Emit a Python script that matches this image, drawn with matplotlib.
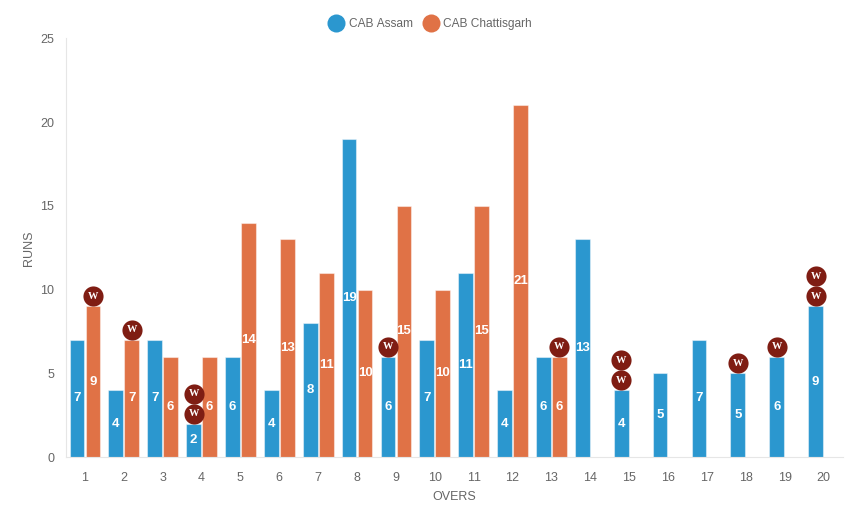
import numpy as np
import matplotlib
matplotlib.use("Agg")
import matplotlib.pyplot as plt
from matplotlib.lines import Line2D

plt.rcParams['font.family'] = ['Liberation Sans', 'DejaVu Sans']
plt.rcParams['text.kerning_factor'] = 6

overs = list(range(1, 21))
assam = [7, 4, 7, 2, 6, 4, 8, 19, 6, 7, 11, 4, 6, 13, 4, 5, 7, 5, 6, 9]
chattisgarh = [9, 7, 6, 6, 14, 13, 11, 10, 15, 10, 15, 21, 6, 0, 0, 0, 0, 0, 0, 0]
assam_wkts = [0, 0, 0, 2, 0, 0, 0, 0, 1, 0, 0, 0, 0, 0, 2, 0, 0, 1, 1, 2]
chattisgarh_wkts = [1, 1, 0, 0, 0, 0, 0, 0, 0, 0, 0, 0, 1, 0, 0, 0, 0, 0, 0, 0]

blue = '#2b97cf'
orange = '#e07246'
wkt_col = '#7f1d13'
grey = '#666666'

W, H = 861, 516
fig = plt.figure(figsize=(W / 100, H / 100), dpi=100)
# axes box in pixels: left 65.5, right 843, top 38.5, bottom 457
ax = fig.add_axes([65.5 / W, 1 - 457 / H, (843 - 65.5) / W, (457 - 38.5) / H])

x = np.arange(len(overs))
off = 0.205
bw = 0.38


def draw_team(xs, vals, wkts, col):
    ax.bar(xs, vals, bw, color=col, edgecolor=(1, 1, 1, 0.45), linewidth=0.8, zorder=2)
    for xi, v, n in zip(xs, vals, wkts):
        if v > 0:
            ax.text(xi, v / 2, str(v), color='white', fontsize=9.5, fontweight='bold',
                    ha='center', va='center', zorder=3)
        for k in range(n):
            # stacked wicket badges sitting on top of the bar
            dy = 10 + 20 * k
            ax.plot([xi], [v], marker='o', ms=14.5, color=wkt_col, mew=0, zorder=4,
                    transform=ax.transData + matplotlib.transforms.ScaledTranslation(0, dy / 100, fig.dpi_scale_trans))
            ax.annotate('W', (xi, v), xytext=(0, dy * 0.72), textcoords='offset points',
                        color='white', fontsize=7.5, fontweight='bold', family='Liberation Serif',
                        ha='center', va='center', zorder=5)


draw_team(x - off, assam, assam_wkts, blue)
draw_team(x + off, chattisgarh, chattisgarh_wkts, orange)

ax.set_xlim(-0.5, len(overs) - 0.5)
ax.set_ylim(0, 25)
ax.set_xticks(x)
ax.set_xticklabels(overs)
ax.set_yticks([0, 5, 10, 15, 20, 25])
ax.tick_params(length=0, labelcolor=grey, labelsize=9)
ax.tick_params(axis='x', pad=11)
ax.tick_params(axis='y', pad=8)

for s in ['top', 'right']:
    ax.spines[s].set_visible(False)
for s in ['left', 'bottom']:
    ax.spines[s].set_color('#e6e6e6')

ax.set_xlabel('OVERS', color=grey, fontsize=9, labelpad=5)
ax.set_ylabel('RUNS', color=grey, fontsize=9, labelpad=4)

handles = [Line2D([], [], marker='o', ls='', ms=13, color=blue, mew=0),
           Line2D([], [], marker='o', ls='', ms=13, color=orange, mew=0)]
fig.legend(handles, ['CAB Assam', 'CAB Chattisgarh'], ncol=2, frameon=False,
           loc='center', bbox_to_anchor=(428 / W, 1 - 24 / H), fontsize=8.6, labelcolor=grey,
           handletextpad=0.05, columnspacing=0.5, borderpad=0)

fig.savefig('out.png', dpi=100)
